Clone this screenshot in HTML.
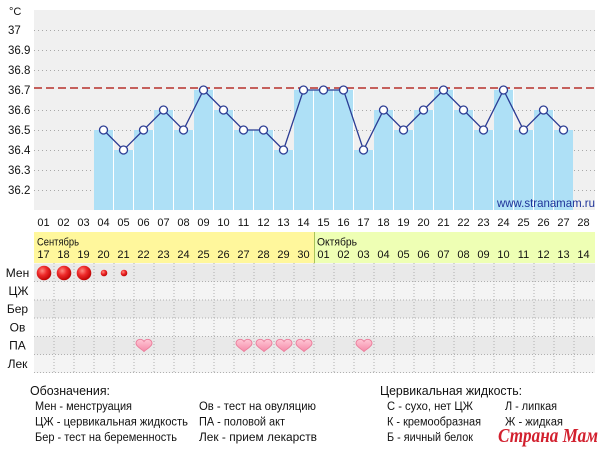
<!DOCTYPE html>
<html><head><meta charset="utf-8"><style>
html,body{margin:0;padding:0;background:#fff;}
svg{display:block;}
text{font-family:"Liberation Sans","DejaVu Sans",sans-serif;fill:#111;}
</style></head><body>
<svg width="606" height="450" viewBox="0 0 606 450" xmlns="http://www.w3.org/2000/svg">
<defs>
<radialGradient id="rg" cx="0.38" cy="0.35" r="0.7">
<stop offset="0" stop-color="#ff8a80"/><stop offset="0.45" stop-color="#ee2b2b"/><stop offset="1" stop-color="#b80000"/>
</radialGradient>
<linearGradient id="hg" x1="0" y1="0" x2="0" y2="1">
<stop offset="0" stop-color="#ffc8d6"/><stop offset="1" stop-color="#f58aa8"/>
</linearGradient>
<path id="heart" d="M0,6 C-2,4 -8,1 -8,-2 C-8,-5 -5.5,-6.2 -3.8,-6.2 C-2,-6.2 -0.6,-5 0,-4 C0.6,-5 2,-6.2 3.8,-6.2 C5.5,-6.2 8,-5 8,-2 C8,1 2,4 0,6 Z" fill="url(#hg)" stroke="#ea7d9b" stroke-width="0.9"/>
</defs>

<!-- chart bg -->
<rect x="34" y="10" width="561" height="200" fill="#f0f0f0"/>
<g stroke="#a8a8a8" stroke-width="1" stroke-dasharray="1,3">
<line x1="34" y1="30.5" x2="595" y2="30.5"/>
<line x1="34" y1="50.5" x2="595" y2="50.5"/>
<line x1="34" y1="70.5" x2="595" y2="70.5"/>
<line x1="34" y1="110.5" x2="595" y2="110.5"/>
<line x1="34" y1="130.5" x2="595" y2="130.5"/>
<line x1="34" y1="150.5" x2="595" y2="150.5"/>
<line x1="34" y1="170.5" x2="595" y2="170.5"/>
<line x1="34" y1="190.5" x2="595" y2="190.5"/>
</g>

<!-- bars -->
<g fill="#aee0f6">
<rect x="94" y="130" width="19" height="80"/>
<rect x="114" y="150" width="19" height="60"/>
<rect x="134" y="130" width="19" height="80"/>
<rect x="154" y="110" width="19" height="100"/>
<rect x="174" y="130" width="19" height="80"/>
<rect x="194" y="90" width="19" height="120"/>
<rect x="214" y="110" width="19" height="100"/>
<rect x="234" y="130" width="19" height="80"/>
<rect x="254" y="130" width="19" height="80"/>
<rect x="274" y="150" width="19" height="60"/>
<rect x="294" y="90" width="19" height="120"/>
<rect x="314" y="90" width="19" height="120"/>
<rect x="334" y="90" width="19" height="120"/>
<rect x="354" y="150" width="19" height="60"/>
<rect x="374" y="110" width="19" height="100"/>
<rect x="394" y="130" width="19" height="80"/>
<rect x="414" y="110" width="19" height="100"/>
<rect x="434" y="90" width="19" height="120"/>
<rect x="454" y="110" width="19" height="100"/>
<rect x="474" y="130" width="19" height="80"/>
<rect x="494" y="90" width="19" height="120"/>
<rect x="514" y="130" width="19" height="80"/>
<rect x="534" y="110" width="19" height="100"/>
<rect x="554" y="130" width="19" height="80"/>
</g>
<g fill="#ffffff">
<rect x="113" y="130" width="1" height="80"/>
<rect x="133" y="150" width="1" height="60"/>
<rect x="153" y="130" width="1" height="80"/>
<rect x="173" y="110" width="1" height="100"/>
<rect x="193" y="130" width="1" height="80"/>
<rect x="213" y="90" width="1" height="120"/>
<rect x="233" y="110" width="1" height="100"/>
<rect x="253" y="130" width="1" height="80"/>
<rect x="273" y="130" width="1" height="80"/>
<rect x="293" y="150" width="1" height="60"/>
<rect x="313" y="90" width="1" height="120"/>
<rect x="333" y="90" width="1" height="120"/>
<rect x="353" y="90" width="1" height="120"/>
<rect x="373" y="150" width="1" height="60"/>
<rect x="393" y="110" width="1" height="100"/>
<rect x="413" y="130" width="1" height="80"/>
<rect x="433" y="110" width="1" height="100"/>
<rect x="453" y="90" width="1" height="120"/>
<rect x="473" y="110" width="1" height="100"/>
<rect x="493" y="130" width="1" height="80"/>
<rect x="513" y="90" width="1" height="120"/>
<rect x="533" y="130" width="1" height="80"/>
<rect x="553" y="110" width="1" height="100"/>
</g>

<!-- dashed line -->
<line x1="34" y1="88" x2="595" y2="88" stroke="#c5605c" stroke-width="2" stroke-dasharray="8,4"/>

<!-- polyline -->
<polyline fill="none" stroke="#2b3c94" stroke-width="1.3" points="103.5,130 123.5,150 143.5,130 163.5,110 183.5,130 203.5,90 223.5,110 243.5,130 263.5,130 283.5,150 303.5,90 323.5,90 343.5,90 363.5,150 383.5,110 403.5,130 423.5,110 443.5,90 463.5,110 483.5,130 503.5,90 523.5,130 543.5,110 563.5,130"/>
<g fill="#fff" stroke="#2b3c94" stroke-width="1.3">
<circle cx="103.5" cy="130" r="4"/><circle cx="123.5" cy="150" r="4"/><circle cx="143.5" cy="130" r="4"/><circle cx="163.5" cy="110" r="4"/><circle cx="183.5" cy="130" r="4"/><circle cx="203.5" cy="90" r="4"/><circle cx="223.5" cy="110" r="4"/><circle cx="243.5" cy="130" r="4"/><circle cx="263.5" cy="130" r="4"/><circle cx="283.5" cy="150" r="4"/><circle cx="303.5" cy="90" r="4"/><circle cx="323.5" cy="90" r="4"/><circle cx="343.5" cy="90" r="4"/><circle cx="363.5" cy="150" r="4"/><circle cx="383.5" cy="110" r="4"/><circle cx="403.5" cy="130" r="4"/><circle cx="423.5" cy="110" r="4"/><circle cx="443.5" cy="90" r="4"/><circle cx="463.5" cy="110" r="4"/><circle cx="483.5" cy="130" r="4"/><circle cx="503.5" cy="90" r="4"/><circle cx="523.5" cy="130" r="4"/><circle cx="543.5" cy="110" r="4"/><circle cx="563.5" cy="130" r="4"/>
</g>

<text x="595" y="207" text-anchor="end" font-size="12" style="fill:#1f3399" textLength="98" lengthAdjust="spacingAndGlyphs">www.stranamam.ru</text>

<!-- y axis labels -->
<g font-size="11.5">
<text x="9" y="15" font-size="11">°C</text>
<text x="8" y="34">37</text>
<text x="8" y="54">36.9</text>
<text x="8" y="74">36.8</text>
<text x="8" y="94">36.7</text>
<text x="8" y="114">36.6</text>
<text x="8" y="134">36.5</text>
<text x="8" y="154">36.4</text>
<text x="8" y="174">36.3</text>
<text x="8" y="194">36.2</text>
</g>

<!-- day numbers -->
<g font-size="11" text-anchor="middle">
<text x="43.5" y="226">01</text><text x="63.5" y="226">02</text><text x="83.5" y="226">03</text><text x="103.5" y="226">04</text><text x="123.5" y="226">05</text><text x="143.5" y="226">06</text><text x="163.5" y="226">07</text><text x="183.5" y="226">08</text><text x="203.5" y="226">09</text><text x="223.5" y="226">10</text><text x="243.5" y="226">11</text><text x="263.5" y="226">12</text><text x="283.5" y="226">13</text><text x="303.5" y="226">14</text><text x="323.5" y="226">15</text><text x="343.5" y="226">16</text><text x="363.5" y="226">17</text><text x="383.5" y="226">18</text><text x="403.5" y="226">19</text><text x="423.5" y="226">20</text><text x="443.5" y="226">21</text><text x="463.5" y="226">22</text><text x="483.5" y="226">23</text><text x="503.5" y="226">24</text><text x="523.5" y="226">25</text><text x="543.5" y="226">26</text><text x="563.5" y="226">27</text><text x="583.5" y="226">28</text>
</g>

<!-- month band -->
<rect x="34" y="232" width="280" height="31" fill="#fff79c"/>
<rect x="314" y="232" width="281" height="31" fill="#eeffb4"/>
<line x1="314.5" y1="232" x2="314.5" y2="263" stroke="#a9c35a" stroke-width="1"/>
<text x="37" y="245.5" font-size="11" textLength="42" lengthAdjust="spacingAndGlyphs">Сентябрь</text>
<text x="317" y="245.5" font-size="11" textLength="40" lengthAdjust="spacingAndGlyphs">Октябрь</text>
<g font-size="11" text-anchor="middle">
<text x="43.5" y="258">17</text><text x="63.5" y="258">18</text><text x="83.5" y="258">19</text><text x="103.5" y="258">20</text><text x="123.5" y="258">21</text><text x="143.5" y="258">22</text><text x="163.5" y="258">23</text><text x="183.5" y="258">24</text><text x="203.5" y="258">25</text><text x="223.5" y="258">26</text><text x="243.5" y="258">27</text><text x="263.5" y="258">28</text><text x="283.5" y="258">29</text><text x="303.5" y="258">30</text><text x="323.5" y="258">01</text><text x="343.5" y="258">02</text><text x="363.5" y="258">03</text><text x="383.5" y="258">04</text><text x="403.5" y="258">05</text><text x="423.5" y="258">06</text><text x="443.5" y="258">07</text><text x="463.5" y="258">08</text><text x="483.5" y="258">09</text><text x="503.5" y="258">10</text><text x="523.5" y="258">11</text><text x="543.5" y="258">12</text><text x="563.5" y="258">13</text><text x="583.5" y="258">14</text>
</g>

<!-- rows -->
<rect x="34" y="263.5" width="561" height="18.25" fill="#e9e9e9"/>
<rect x="34" y="281.75" width="561" height="18.25" fill="#f4f4f4"/>
<rect x="34" y="300" width="561" height="18.25" fill="#e9e9e9"/>
<rect x="34" y="318.25" width="561" height="18.25" fill="#f4f4f4"/>
<rect x="34" y="336.5" width="561" height="18.25" fill="#e9e9e9"/>
<rect x="34" y="354.75" width="561" height="18.25" fill="#f4f4f4"/>
<g stroke="#b0b0b0" stroke-width="1" stroke-dasharray="1,2">
<line x1="34" y1="281.5" x2="595" y2="281.5"/>
<line x1="34" y1="300" x2="595" y2="300"/>
<line x1="34" y1="318" x2="595" y2="318"/>
<line x1="34" y1="336.5" x2="595" y2="336.5"/>
<line x1="34" y1="354.5" x2="595" y2="354.5"/>
<line x1="34" y1="372.5" x2="595" y2="372.5"/>
<line x1="54" y1="263" x2="54" y2="373"/><line x1="74" y1="263" x2="74" y2="373"/><line x1="94" y1="263" x2="94" y2="373"/><line x1="114" y1="263" x2="114" y2="373"/><line x1="134" y1="263" x2="134" y2="373"/><line x1="154" y1="263" x2="154" y2="373"/><line x1="174" y1="263" x2="174" y2="373"/><line x1="194" y1="263" x2="194" y2="373"/><line x1="214" y1="263" x2="214" y2="373"/><line x1="234" y1="263" x2="234" y2="373"/><line x1="254" y1="263" x2="254" y2="373"/><line x1="274" y1="263" x2="274" y2="373"/><line x1="294" y1="263" x2="294" y2="373"/><line x1="314" y1="263" x2="314" y2="373"/><line x1="334" y1="263" x2="334" y2="373"/><line x1="354" y1="263" x2="354" y2="373"/><line x1="374" y1="263" x2="374" y2="373"/><line x1="394" y1="263" x2="394" y2="373"/><line x1="414" y1="263" x2="414" y2="373"/><line x1="434" y1="263" x2="434" y2="373"/><line x1="454" y1="263" x2="454" y2="373"/><line x1="474" y1="263" x2="474" y2="373"/><line x1="494" y1="263" x2="494" y2="373"/><line x1="514" y1="263" x2="514" y2="373"/><line x1="534" y1="263" x2="534" y2="373"/><line x1="554" y1="263" x2="554" y2="373"/><line x1="574" y1="263" x2="574" y2="373"/>
</g>

<g font-size="12" text-anchor="middle">
<text x="17.5" y="277">Мен</text>
<text x="18.5" y="295">ЦЖ</text>
<text x="17.5" y="313">Бер</text>
<text x="17.5" y="331.5">Ов</text>
<text x="17.5" y="349.5">ПА</text>
<text x="17.5" y="368">Лек</text>
</g>

<!-- Men circles -->
<circle cx="44" cy="273" r="7.3" fill="url(#rg)"/>
<circle cx="64" cy="273" r="7.3" fill="url(#rg)"/>
<circle cx="84" cy="273" r="7.3" fill="url(#rg)"/>
<circle cx="104" cy="273" r="3.3" fill="url(#rg)"/>
<circle cx="124" cy="273" r="3.3" fill="url(#rg)"/>

<!-- hearts -->
<use href="#heart" x="144" y="345.5"/>
<use href="#heart" x="244" y="345.5"/>
<use href="#heart" x="264" y="345.5"/>
<use href="#heart" x="284" y="345.5"/>
<use href="#heart" x="304" y="345.5"/>
<use href="#heart" x="364" y="345.5"/>

<!-- legend -->
<text x="30" y="395" font-size="13" textLength="80" lengthAdjust="spacingAndGlyphs">Обозначения:</text>
<g font-size="11.5">
<text x="35" y="410" textLength="97" lengthAdjust="spacingAndGlyphs">Мен - менструация</text>
<text x="35" y="425.5" textLength="153" lengthAdjust="spacingAndGlyphs">ЦЖ - цервикальная жидкость</text>
<text x="35" y="441" textLength="142" lengthAdjust="spacingAndGlyphs">Бер - тест на беременность</text>
<text x="199" y="410" textLength="117" lengthAdjust="spacingAndGlyphs">Ов - тест на овуляцию</text>
<text x="199" y="425.5" textLength="86" lengthAdjust="spacingAndGlyphs">ПА - половой акт</text>
<text x="199" y="441" textLength="118" lengthAdjust="spacingAndGlyphs">Лек - прием лекарств</text>
</g>
<text x="380" y="395" font-size="13" textLength="142" lengthAdjust="spacingAndGlyphs">Цервикальная жидкость:</text>
<g font-size="11.5">
<text x="387" y="410" textLength="86" lengthAdjust="spacingAndGlyphs">С - сухо, нет ЦЖ</text>
<text x="387" y="425.5" textLength="94" lengthAdjust="spacingAndGlyphs">К - кремообразная</text>
<text x="387" y="441" textLength="86" lengthAdjust="spacingAndGlyphs">Б - яичный белок</text>
<text x="505" y="410" textLength="52" lengthAdjust="spacingAndGlyphs">Л - липкая</text>
<text x="505" y="425.5" textLength="58" lengthAdjust="spacingAndGlyphs">Ж - жидкая</text>
</g>

<!-- watermark -->
<text x="498" y="442" font-size="20" font-weight="bold" font-style="italic" textLength="100" lengthAdjust="spacingAndGlyphs" style="font-family:'Liberation Serif','DejaVu Serif',serif;fill:#d2202e;stroke:#ffffff;stroke-width:3;paint-order:stroke;stroke-linejoin:round">Страна Мам</text>
</svg>
</body></html>
